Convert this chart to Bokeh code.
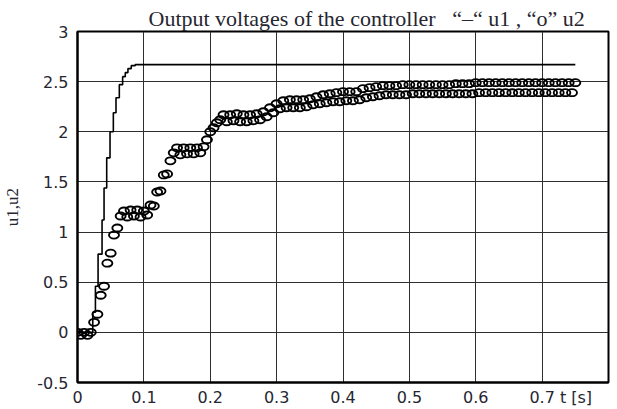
import numpy as np
from bokeh.plotting import figure
from bokeh.models import FixedTicker, Range1d
from bokeh.embed import file_html
from bokeh.resources import INLINE

# ---- data ----
title_text = "Output voltages of the controller\u00a0\u00a0 \u201c\u2013\u201c u1 , \u201co\u201d u2"
x_ticks = [0.0, 0.1, 0.2, 0.3, 0.4, 0.5, 0.6, 0.7, 0.8]
x_tick_labels = ["0", "0.1", "0.2", "0.3", "0.4", "0.5", "0.6", "0.7",
                 "t [s]\u00a0\u00a0\u00a0\u00a0\u00a0"]
y_ticks = [-0.5, 0.0, 0.5, 1.0, 1.5, 2.0, 2.5, 3.0]
y_tick_labels = ["-0.5", "0", "0.5", "1", "1.5", "2", "2.5", "3"]

# u1: staircase controller output
t_u1 = [0.0, 0.023, 0.027, 0.031, 0.037, 0.040, 0.044, 0.049, 0.054, 0.058,
        0.063, 0.068, 0.072, 0.076, 0.081, 0.087, 0.75]
u1 = [0.0, 0.20, 0.46, 0.78, 1.12, 1.44, 1.74, 2.00, 2.19, 2.34,
      2.47, 2.55, 2.59, 2.63, 2.66, 2.67, 2.67]

# u2: sampled every 5 ms from 0 to 0.75 s
t_u2 = np.round(np.arange(151) * 0.005, 3)
u2 = [
    0.00, -0.03, 0.00, -0.03, 0.00, 0.10, 0.18, 0.37, 0.46, 0.69,
    0.79, 0.97, 1.04, 1.16, 1.21, 1.15, 1.22, 1.16, 1.22, 1.15,
    1.21, 1.17, 1.27, 1.26, 1.40, 1.41, 1.57, 1.58, 1.71, 1.79,
    1.84, 1.77, 1.84, 1.78, 1.84, 1.78, 1.84, 1.79, 1.85, 1.92,
    2.00, 2.04, 2.09, 2.12, 2.17, 2.10, 2.17, 2.11, 2.18, 2.10,
    2.17, 2.10, 2.17, 2.11, 2.18, 2.12, 2.20, 2.15, 2.24, 2.19,
    2.28, 2.23, 2.31, 2.24, 2.32, 2.24, 2.32, 2.24, 2.32, 2.25,
    2.33, 2.27, 2.35, 2.28, 2.37, 2.29, 2.38, 2.30, 2.39, 2.30,
    2.40, 2.31, 2.40, 2.31, 2.40, 2.32, 2.43, 2.34, 2.44, 2.35,
    2.45, 2.36, 2.46, 2.37, 2.46, 2.37, 2.46, 2.37, 2.47, 2.37,
    2.47, 2.38, 2.47, 2.38, 2.47, 2.38, 2.47, 2.38, 2.47, 2.38,
    2.47, 2.38, 2.47, 2.38, 2.48, 2.38, 2.48, 2.38, 2.48, 2.38,
    2.49, 2.39, 2.49, 2.39, 2.49, 2.39, 2.49, 2.39, 2.49, 2.39,
    2.49, 2.39, 2.49, 2.39, 2.49, 2.39, 2.49, 2.39, 2.49, 2.39,
    2.49, 2.39, 2.49, 2.39, 2.49, 2.39, 2.49, 2.39, 2.49, 2.39,
    2.49,
]

SERIF = "Liberation Serif"
SANS = "DejaVu Sans"
TXT = "#262630"

p = figure(width=617, height=409, output_backend="svg", toolbar_location=None,
           x_range=Range1d(0, 0.8), y_range=Range1d(-0.5, 3.0),
           min_border_left=72, min_border_right=9, min_border_top=31, min_border_bottom=25,
           background_fill_color="white", border_fill_color="white")

p.title.text = title_text
p.title.align = "left"
p.title.offset = 71
p.title.text_font = SERIF
p.title.text_font_size = "22px"
p.title.text_font_style = "normal"
p.title.text_color = TXT
p.title.standoff = 2

p.outline_line_color = "black"
p.outline_line_width = 2
p.outline_line_alpha = 1

for ax in (p.xaxis[0], p.yaxis[0]):
    ax.axis_line_color = "black"
    ax.axis_line_width = 2
    ax.major_tick_in = 0
    ax.major_tick_out = 0
    ax.minor_tick_in = 0
    ax.minor_tick_out = 0
    ax.major_label_text_font = SANS
    ax.major_label_text_font_size = "16px"
    ax.major_label_text_color = TXT

p.xaxis.ticker = FixedTicker(ticks=x_ticks)
p.xaxis.major_label_overrides = {t: s for t, s in zip(x_ticks, x_tick_labels)}
p.xaxis.major_label_standoff = 5
p.yaxis.ticker = FixedTicker(ticks=y_ticks)
p.yaxis.major_label_overrides = {t: s for t, s in zip(y_ticks, y_tick_labels)}
p.yaxis.major_label_standoff = 9
p.yaxis.axis_label = "u1,u2"
p.yaxis.axis_label_text_font = SERIF
p.yaxis.axis_label_text_font_size = "17px"
p.yaxis.axis_label_text_font_style = "normal"
p.yaxis.axis_label_text_color = TXT
p.yaxis.axis_label_standoff = 12

p.xgrid.grid_line_color = "#2e2e2e"
p.ygrid.grid_line_color = "#2e2e2e"
p.xgrid.grid_line_width = 1
p.ygrid.grid_line_width = 1

p.step(t_u1, u1, mode="after", line_color="black", line_width=1.6)
p.ellipse(x=t_u2, y=u2, width=10, height=7, width_units="screen", height_units="screen",
          fill_color=None, line_color="black", line_width=1.9)

open("out.html", "w").write(file_html(p, INLINE))
